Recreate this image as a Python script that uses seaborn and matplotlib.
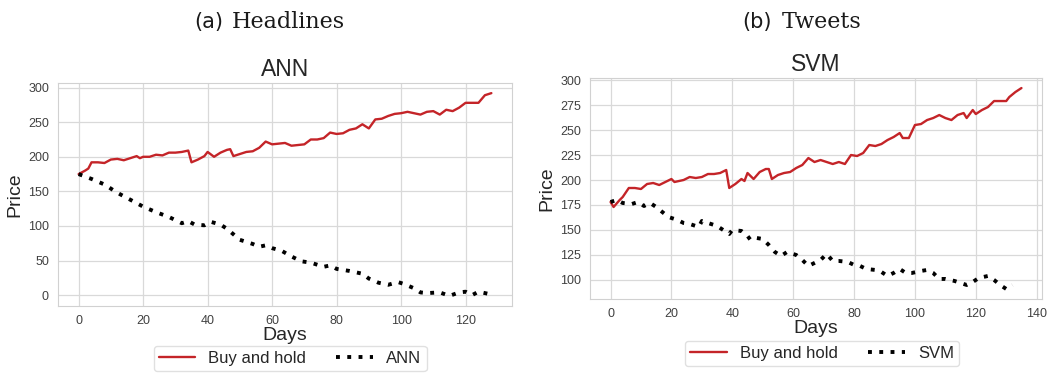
import numpy as np
import pandas as pd
import matplotlib
matplotlib.use("Agg")
import matplotlib.pyplot as plt
from matplotlib.ticker import MultipleLocator
import seaborn as sns

# ---- Headlines / ANN ----
ann_hold_days = [0, 2, 3, 4, 6, 8, 10, 12, 14, 16, 18, 19, 20, 22, 24, 26, 28, 30, 32, 34,
                 35, 37, 39, 40, 42, 44, 46, 47, 48, 50, 52, 54, 56, 58, 60, 62, 64, 66, 68,
                 70, 72, 74, 76, 78, 80, 82, 84, 86, 88, 90, 92, 94, 96, 98, 100, 102, 104,
                 106, 108, 110, 112, 114, 116, 118, 120, 122, 124, 126, 128]
ann_hold_price = [175, 180, 183, 192, 192, 191, 196, 197, 195, 198, 201, 198, 200, 200, 203,
                  202, 206, 206, 207, 209, 192, 196, 201, 207, 200, 206, 210, 211, 201, 204,
                  207, 208, 213, 222, 218, 219, 220, 216, 217, 218, 225, 225, 227, 235, 233,
                  234, 239, 241, 247, 241, 254, 255, 259, 262, 263, 265, 263, 261, 265, 266,
                  261, 268, 266, 271, 278, 278, 278, 289, 292]
ann_days = [0, 4, 8, 12, 16, 20, 24, 28, 32, 34, 36, 39, 41, 44, 46, 48, 50, 54, 56, 58, 60,
            63, 66, 69, 72, 76, 78, 80, 84, 88, 90, 93, 96, 99, 101, 104, 106, 108, 112, 115,
            118, 120, 122, 124, 127]
ann_price = [175, 168, 160, 148, 138, 128, 120, 113, 104, 107, 102, 101, 106, 102, 96, 88, 80,
             74, 70, 72, 68, 64, 56, 49, 47, 41, 43, 38, 35, 31, 24, 18, 15, 19, 16, 10, 4, 3,
             4, -1, 4, 5, 0, 5, 2]

# ---- Tweets / SVM ----
svm_hold_days = [0, 1, 3, 4, 6, 8, 10, 12, 14, 16, 18, 20, 21, 24, 26, 28, 30, 32, 34, 36, 38,
                 39, 41, 43, 44, 45, 47, 49, 51, 52, 53, 55, 57, 59, 61, 63, 65, 67, 69, 71, 73,
                 75, 77, 79, 81, 83, 85, 87, 89, 91, 93, 95, 96, 98, 100, 102, 104, 106, 108,
                 110, 112, 114, 116, 117, 119, 120, 122, 124, 126, 128, 130, 131, 133, 135]
svm_hold_price = [178, 173, 180, 183, 192, 192, 191, 196, 197, 195, 198, 201, 198, 200, 203,
                  202, 203, 206, 206, 207, 210, 192, 196, 201, 199, 207, 201, 208, 211, 211,
                  201, 205, 207, 208, 212, 215, 222, 218, 220, 218, 216, 218, 216, 225, 224,
                  227, 235, 234, 236, 240, 243, 247, 242, 242, 255, 256, 260, 262, 265, 262,
                  260, 265, 267, 262, 270, 266, 270, 273, 279, 279, 279, 283, 288, 292]
svm_days = [0, 2, 4, 7, 9, 11, 13, 15, 17, 19, 22, 24, 26, 29, 30, 33, 35, 37, 39, 40, 43, 45,
            46, 48, 50, 52, 54, 56, 58, 61, 63, 65, 67, 69, 71, 73, 75, 78, 80, 82, 84, 87, 89,
            91, 93, 95, 97, 99, 102, 104, 106, 108, 110, 113, 115, 117, 119, 121, 124, 126, 128,
            130, 132]
svm_price = [178, 180, 177, 176, 178, 174, 177, 173, 168, 163, 160, 157, 156, 153, 159, 156,
             154, 150, 146, 150, 149, 144, 140, 142, 141, 135, 128, 124, 128, 125, 120, 114,
             117, 120, 126, 119, 119, 118, 115, 114, 111, 110, 108, 104, 107, 111, 107, 107,
             109, 110, 107, 101, 101, 99, 97, 95, 98, 102, 104, 100, 95, 91, 95]

HOLD_COLOR = "#c42428"
DOT_STYLE = (0, (1, 1.9))

sns.set_style("whitegrid")
plt.rcParams["font.family"] = ["Liberation Sans", "DejaVu Sans"]

W, H = 1062, 374
fig = plt.figure(figsize=(W / 100, H / 100), dpi=100)


def px_axes(x0, y0, x1, y1):
    return fig.add_axes([x0 / W, 1 - y1 / H, (x1 - x0) / W, (y1 - y0) / H])


ax1 = px_axes(58, 83, 512, 306)
ax2 = px_axes(590, 78, 1042, 299)

panels = [
    (ax1, ann_hold_days, ann_hold_price, ann_days, ann_price, "ANN", 50, (290, 346)),
    (ax2, svm_hold_days, svm_hold_price, svm_days, svm_price, "SVM", 25, (822, 341)),
]

for ax, hd, hp, md, mp, name, ystep, (lx, ly) in panels:
    sns.lineplot(x=hd, y=hp, ax=ax, color=HOLD_COLOR, linewidth=1.7, label="Buy and hold")
    sns.lineplot(x=md, y=mp, ax=ax, color="black", linewidth=2.8, linestyle=DOT_STYLE,
                 dash_capstyle="butt", label=name)
    ax.set_title(name, fontsize=16.5, color="0.15", pad=5)
    ax.set_xlabel("Days", fontsize=14, color="0.15", labelpad=0)
    ax.set_ylabel("Price", fontsize=14, color="0.15", labelpad=3)
    ax.xaxis.set_major_locator(MultipleLocator(20))
    ax.yaxis.set_major_locator(MultipleLocator(ystep))
    ax.tick_params(labelsize=9, colors="0.25", pad=3)
    for s in ax.spines.values():
        s.set_color("0.82")
    ax.grid(color="0.85", linewidth=0.9)
    ax.legend(loc="upper center", bbox_to_anchor=(lx / W, 1 - ly / H),
              bbox_transform=fig.transFigure, ncol=2, frameon=True, fontsize=12,
              edgecolor="0.85", fancybox=True, handlelength=2.2, columnspacing=1.8,
              borderpad=0.3, borderaxespad=0)

# sub-figure captions
cap_y = 1 - 22 / H
fig.text(223 / W, cap_y, "(a)", ha="right", va="center", fontsize=15,
         family="DejaVu Sans", color="0.1")
fig.text(232 / W, cap_y, "Headlines", ha="left", va="center", fontsize=16,
         family="DejaVu Serif", color="0.1")
fig.text(772 / W, cap_y, "(b)", ha="right", va="center", fontsize=15,
         family="DejaVu Sans", color="0.1")
fig.text(782 / W, cap_y, "Tweets", ha="left", va="center", fontsize=16,
         family="DejaVu Serif", color="0.1")

fig.savefig("out.png", dpi=100)
